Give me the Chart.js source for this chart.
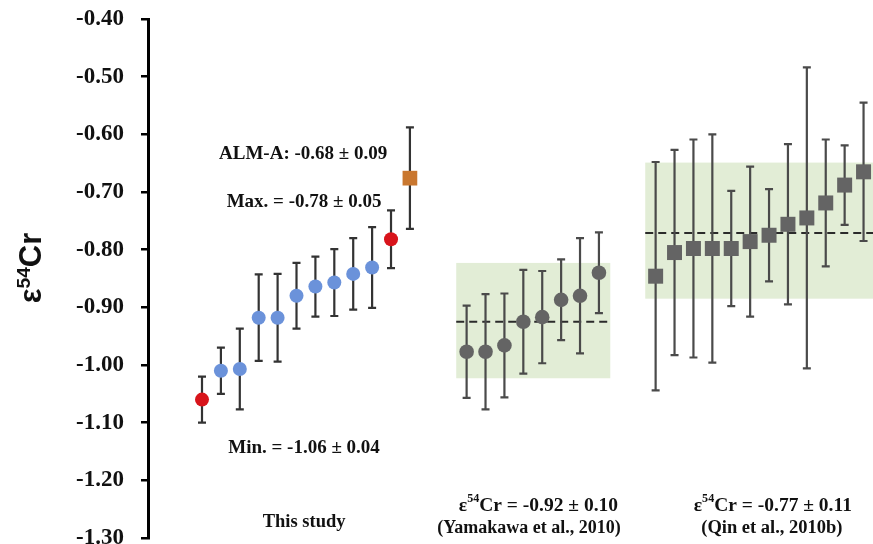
<!DOCTYPE html>
<html lang="en">
<head>
<meta charset="UTF-8">
<title>e54Cr</title>
<script src="https://cdn.jsdelivr.net/npm/chart.js"></script>
<style>
  html, body { margin: 0; padding: 0; background: #fff; overflow: hidden; }
  #wrap { position: relative; width: 873px; height: 544px; }
</style>
</head>
<body>
<div id="wrap"><canvas id="myChart"></canvas></div>
<script>
// this study (min and max drawn red), ALM-A separately
const studyVals = [-1.06, -1.01, -1.007, -0.918, -0.918, -0.880, -0.864, -0.857, -0.842, -0.831, -0.782];
const studyErr  = [0.04, 0.04, 0.07, 0.075, 0.076, 0.057, 0.052, 0.058, 0.062, 0.07, 0.05];
const almVal = -0.676;
const almErr = 0.088;

// Yamakawa et al., 2010
const yamVals = [-0.977, -0.977, -0.966, -0.925, -0.917, -0.887, -0.880, -0.840];
const yamErr  = [0.08, 0.10, 0.09, 0.09, 0.08, 0.07, 0.10, 0.07];

// Qin et al., 2010b
const qinVals = [-0.846, -0.805, -0.798, -0.798, -0.798, -0.786, -0.775, -0.756, -0.745, -0.719, -0.688, -0.665];
const qinErr  = [0.198, 0.178, 0.189, 0.198, 0.10, 0.13, 0.08, 0.139, 0.261, 0.11, 0.069, 0.12];

// mean line and shaded band of each literature set
const refMean = [-0.925, -0.771];
const refLow  = [-1.023, -0.885];
const refHigh = [-0.823, -0.649];

const yMin = -1.30, yMax = -0.40, yStep = 0.10;

const yamStart = 14, qinStart = 24;

const studyMin = Math.min(...studyVals), studyMax = Math.max(...studyVals);

function pts(vals, start) {
    return vals.map(function (v, i) { return { x: start + i, y: v }; });
}

function richText(ctx, parts, cx, cy, size, family) {
    // parts: [text, isSuperscript]
    var w = 0;
    parts.forEach(function (p) {
        ctx.font = 'bold ' + (p[1] ? size * 0.62 : size) + 'px ' + family;
        w += ctx.measureText(p[0]).width;
    });
    var x = cx - w / 2;
    ctx.textAlign = 'left';
    parts.forEach(function (p) {
        ctx.font = 'bold ' + (p[1] ? size * 0.62 : size) + 'px ' + family;
        ctx.fillText(p[0], x, p[1] ? cy - size * 0.36 : cy);
        x += ctx.measureText(p[0]).width;
    });
}

const notes = [
    { parts: [['ALM-A: -0.68 ± 0.09']], x: 5.35, y: -0.634, size: 19 },
    { parts: [['Max. = -0.78 ± 0.05']], x: 5.4, y: -0.717, size: 19 },
    { parts: [['Min. = -1.06 ± 0.04']], x: 5.4, y: -1.144, size: 19 },
    { parts: [['This study']], x: 5.4, y: -1.272, size: 18.5 },
    { parts: [['ε'], ['54', true], ['Cr = -0.92 ± 0.10']], x: 17.8, y: -1.244, size: 19.5 },
    { parts: [['(Yamakawa et al., 2010)']], x: 17.3, y: -1.283, size: 18 },
    { parts: [['ε'], ['54', true], ['Cr = -0.77 ± 0.11']], x: 30.2, y: -1.244, size: 19.5 },
    { parts: [['(Qin et al., 2010b)']], x: 30.15, y: -1.283, size: 18.5 }
];

const decor = {
    id: 'decor',
    beforeDatasetsDraw(chart) {
        const ctx = chart.ctx, xs = chart.scales.x, ys = chart.scales.y, a = chart.chartArea;
        ctx.save();
        ctx.beginPath();
        ctx.rect(a.left, a.top, a.right - a.left, a.bottom - a.top);
        ctx.clip();

        // bands + dashed means
        var groups = [[yamStart, yamVals.length], [qinStart, qinVals.length]];
        groups.forEach(function (g, k) {
            var x0 = xs.getPixelForValue(g[0] - 0.55);
            var x1 = xs.getPixelForValue(g[0] + g[1] - 1 + 0.6);
            var yt = ys.getPixelForValue(refHigh[k]);
            var yb = ys.getPixelForValue(refLow[k]);
            ctx.fillStyle = '#e2edd6';
            ctx.fillRect(x0, yt, x1 - x0, yb - yt);
            var ym = ys.getPixelForValue(refMean[k]);
            ctx.strokeStyle = '#2b2b2b';
            ctx.lineWidth = 2;
            ctx.setLineDash([8, 5]);
            ctx.beginPath();
            ctx.moveTo(x0, ym);
            ctx.lineTo(x1, ym);
            ctx.stroke();
        });
        ctx.setLineDash([]);

        // error bars
        chart.data.datasets.forEach(function (ds, i) {
            var meta = chart.getDatasetMeta(i);
            ctx.strokeStyle = ds.barColor;
            ctx.lineWidth = 2.2;
            meta.data.forEach(function (el, j) {
                var v = ds.data[j].y, e = ds.errors[j];
                var top = ys.getPixelForValue(v + e), bot = ys.getPixelForValue(v - e);
                ctx.beginPath();
                ctx.moveTo(el.x, top); ctx.lineTo(el.x, bot);
                ctx.moveTo(el.x - 4, top); ctx.lineTo(el.x + 4, top);
                ctx.moveTo(el.x - 4, bot); ctx.lineTo(el.x + 4, bot);
                ctx.stroke();
            });
        });
        ctx.restore();
    },
    afterDraw(chart) {
        const ctx = chart.ctx, xs = chart.scales.x, ys = chart.scales.y;
        ctx.save();
        ctx.fillStyle = '#111';
        ctx.textBaseline = 'middle';
        notes.forEach(function (n) {
            richText(ctx, n.parts, xs.getPixelForValue(n.x), ys.getPixelForValue(n.y), n.size, '"Liberation Serif", "Times New Roman", serif');
        });
        // axis title
        ctx.translate(41, 268);
        ctx.rotate(-Math.PI / 2);
        ctx.textBaseline = 'alphabetic';
        richText(ctx, [['ε'], ['54', true], ['Cr']], 0, 0, 31, '"Liberation Sans", Arial, sans-serif');
        ctx.restore();
    }
};

const ctx = document.getElementById('myChart');

var Grafico = new Chart(ctx, {
    type: 'scatter',
    data: {
        datasets: [{
            label: 'This study',
            data: pts(studyVals, 0),
            errors: studyErr,
            barColor: '#333333',
            pointRadius: 7,
            pointBorderWidth: 0,
            pointBackgroundColor: function (c) {
                var v = studyVals[c.dataIndex];
                return (v === studyMin || v === studyMax) ? '#d8141b' : '#6b92da';
            }
        }, {
            label: 'ALM-A',
            data: pts([almVal], studyVals.length),
            errors: [almErr],
            barColor: '#333333',
            pointStyle: 'rect',
            pointRadius: 10.4,
            pointBorderWidth: 0,
            pointBackgroundColor: '#c9772f'
        }, {
            label: 'Yamakawa et al., 2010',
            data: pts(yamVals, yamStart),
            errors: yamErr,
            barColor: '#4a4a4a',
            pointRadius: 7.3,
            pointBorderWidth: 0,
            pointBackgroundColor: '#646464'
        }, {
            label: 'Qin et al., 2010b',
            data: pts(qinVals, qinStart),
            errors: qinErr,
            barColor: '#4a4a4a',
            pointStyle: 'rect',
            pointRadius: 10.6,
            pointBorderWidth: 0,
            pointBackgroundColor: '#646464'
        }]
    },
    options: {
        responsive: true,
        maintainAspectRatio: false,
        animation: false,
        layout: { autoPadding: false, padding: { top: 19, bottom: 6, left: 0, right: 0 } },
        plugins: { legend: { display: false }, tooltip: { enabled: false } },
        scales: {
            x: { type: 'linear', display: false, min: -2.857, max: 35.5 },
            y: {
                min: yMin,
                max: yMax,
                ticks: {
                    stepSize: yStep,
                    padding: 17,
                    color: '#111',
                    font: { family: '"Liberation Serif", "Times New Roman", serif', weight: 'bold', size: 23 },
                    callback: function (v) { return v.toFixed(2); }
                },
                grid: { drawOnChartArea: false, tickLength: 7, color: '#000', lineWidth: 2.5 },
                border: { color: '#000', width: 3 },
                afterFit: function (s) {
                    s.width = 148;
                    s.paddingTop = 0;
                    s.paddingBottom = 0;
                }
            }
        }
    },
    plugins: [decor]
});
</script>
</body>
</html>
